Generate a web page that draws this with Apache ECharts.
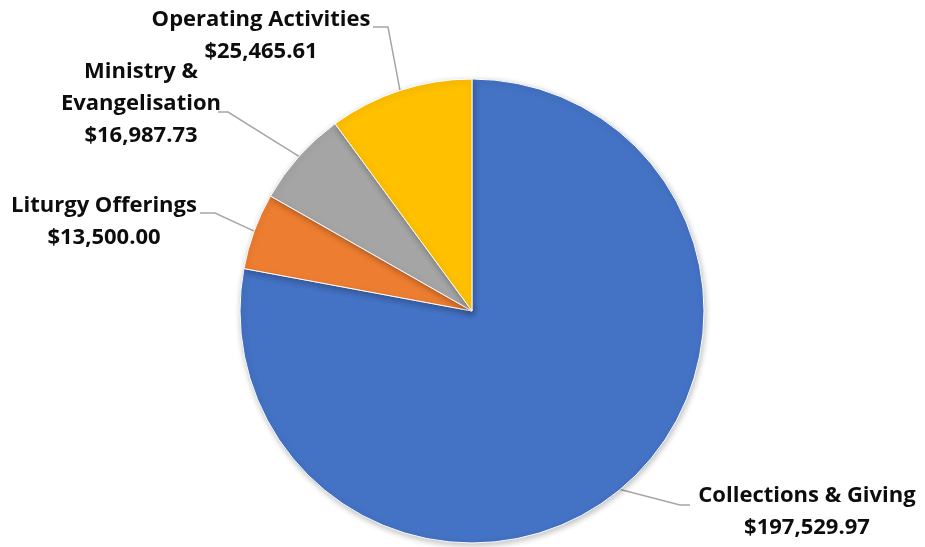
<!DOCTYPE html>
<html>
<head>
<meta charset="utf-8">
<script src="https://cdn.jsdelivr.net/npm/echarts@6/dist/echarts.min.js"></script>
<style>html,body{margin:0;padding:0;background:#fff;}#c{width:925px;height:547px;}</style>
</head>
<body>
<div id="c"></div>
<script>
const categories = ['Collections & Giving', 'Liturgy Offerings', 'Ministry & Evangelisation', 'Operating Activities'];
const displayLabels = ['Collections & Giving', 'Liturgy Offerings', 'Ministry &\nEvangelisation', 'Operating Activities'];
const values = [197529.97, 13500.00, 16987.73, 25465.61];
const colors = ['#4472C4', '#ED7D31', '#A5A5A5', '#FFC000'];

// label placement (layout only)
const labelPlace = [
  { x: 807, y: 512, elbow: [680, 505], end: [690, 505] },
  { x: 104, y: 222, elbow: [215, 213], end: [200, 213] },
  { x: 141, y: 104, elbow: [228, 112], end: [218, 112] },
  { x: 261, y: 36, elbow: [388, 27], end: [373, 27] }
];

function fmt(v) {
  return '$' + v.toLocaleString('en-US', { minimumFractionDigits: 2, maximumFractionDigits: 2 });
}

const chart = echarts.init(document.getElementById('c'));
chart.setOption({
  animation: false,
  series: [{
    type: 'pie',
    center: [472, 311],
    radius: 232,
    startAngle: 90,
    clockwise: true,
    data: categories.map((c, i) => ({ name: c, value: values[i], itemStyle: { color: colors[i] } })),
    itemStyle: { borderColor: '#fff', borderWidth: 1, shadowBlur: 6, shadowColor: 'rgba(0,0,0,0.25)', shadowOffsetX: 1, shadowOffsetY: 2 },
    label: {
      show: true,
      position: 'outside',
      formatter: p => displayLabels[p.dataIndex] + '\n' + fmt(p.value),
      fontFamily: 'Open Sans',
      fontWeight: 'bold',
      fontSize: 22,
      lineHeight: 32,
      color: '#0d0d0d',
      align: 'center'
    },
    labelLine: { show: true, lineStyle: { color: '#a6a6a6', width: 1.5 }, length: 20, length2: 20 },
    labelLayout: function (params) {
      const lp = labelPlace[params.dataIndex];
      const start = params.labelLinePoints ? params.labelLinePoints[0] : lp.elbow;
      return {
        x: lp.x, y: lp.y, align: 'center', verticalAlign: 'middle',
        labelLinePoints: [start, lp.elbow, lp.end]
      };
    },
    emphasis: { disabled: true }
  }]
});
</script>
</body>
</html>
